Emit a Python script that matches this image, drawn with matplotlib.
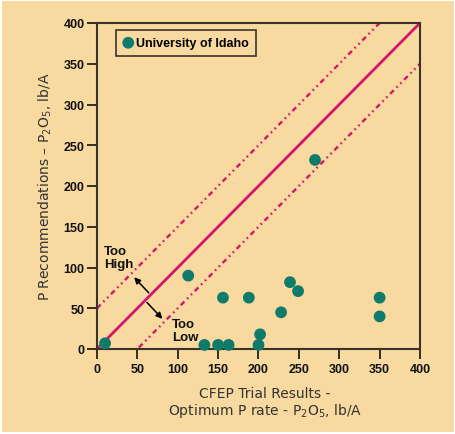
import numpy as np
import matplotlib
matplotlib.use("Agg")
import matplotlib.pyplot as plt
from matplotlib.patches import Rectangle

# ---- data ----
cfep_x = [10, 113, 133, 150, 163, 156, 188, 200, 202, 228, 239, 249, 270, 350, 350]
rec_y = [7, 90, 5, 5, 5, 63, 63, 5, 18, 45, 82, 71, 232, 63, 40]
ticks = [0, 50, 100, 150, 200, 250, 300, 350, 400]
offset = 50  # +/- band around the 1:1 line

bg = '#F8D9A0'
line_col = '#D4146E'
dot_col = '#0E7B6B'
arial = 'Liberation Sans'

fig = plt.figure(figsize=(4.56, 4.35), dpi=100, facecolor='white')
fig.patches.append(Rectangle((2 / 456, 2 / 435), 452 / 456, 431 / 435,
                             transform=fig.transFigure, facecolor=bg,
                             edgecolor='none', zorder=-10))
ax = fig.add_axes([97 / 456, 85 / 435, 323 / 456, 326 / 435])
ax.set_facecolor(bg)

xx = np.array([0, 400])
ax.plot(xx, xx, color=line_col, lw=2, zorder=2)
ddd = (0, (2.2, 1.6, 0.7, 1.6, 0.7, 1.6))
ax.plot(xx, xx + offset, color=line_col, lw=1.7, ls=ddd, zorder=2)
ax.plot(xx, xx - offset, color=line_col, lw=1.7, ls=ddd, zorder=2)

ax.scatter(cfep_x, rec_y, s=72, color=dot_col, edgecolors='none', zorder=3,
           label='University of Idaho', clip_on=False)

# arrows pointing away from the 1:1 line
arw = dict(arrowstyle='-|>', color='black', lw=1.1, mutation_scale=9,
           shrinkA=0, shrinkB=0)
ax.annotate('', xy=(46, 88), xytext=(64, 69), arrowprops=arw)
ax.annotate('', xy=(81, 37), xytext=(62, 57), arrowprops=arw)
ax.text(9, 127, 'Too\nHigh', fontsize=9.5, fontweight='bold', va='top',
        ha='left', linespacing=1.1, color='#111111', family=arial)
ax.text(93, 38, 'Too\nLow', fontsize=9.5, fontweight='bold', va='top',
        ha='left', linespacing=1.1, color='#111111', family=arial)

ax.set_xlim(0, 400)
ax.set_ylim(0, 400)
ax.set_xticks(ticks)
ax.set_yticks(ticks)
ax.tick_params(direction='out', length=7, width=1.2, labelsize=9,
               colors='#111111', pad=3)
ax.tick_params(axis='y', pad=2)
for lab in ax.get_xticklabels() + ax.get_yticklabels():
    lab.set_fontweight('bold')
    lab.set_family(arial)
for sp in ax.spines.values():
    sp.set_linewidth(1.5)
    sp.set_color('#3a3428')

ax.set_xlabel('CFEP Trial Results -\nOptimum P rate - P$_2$O$_5$, lb/A',
              fontsize=10, color='#333333', linespacing=1.15)
ax.xaxis.set_label_coords(0.52, -0.112, transform=ax.transAxes)
ax.xaxis.label.set_va('top')
ax.set_ylabel('P Recommendations \u2013 P$_2$O$_5$, lb/A', fontsize=10,
              color='#333333', labelpad=7)

leg = ax.legend(loc='upper left', bbox_to_anchor=(0.058, 0.978),
                fancybox=False, framealpha=1, facecolor=bg,
                edgecolor='#3a3428', handletextpad=0.2, borderpad=0.55,
                borderaxespad=0,
                prop=dict(weight='bold', size=9, family=arial),
                markerscale=1.0, handlelength=0.9)
leg.get_frame().set_linewidth(1.2)

fig.savefig('out.png', dpi=100, facecolor=fig.get_facecolor())
